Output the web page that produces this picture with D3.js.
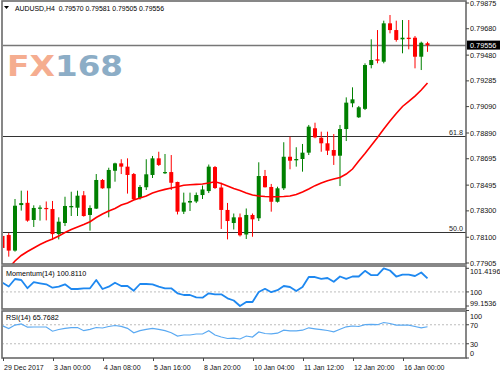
<!DOCTYPE html>
<html><head><meta charset="utf-8">
<script src="https://cdn.jsdelivr.net/npm/d3@7"></script>
<style>html,body{margin:0;padding:0;background:#fff;}svg{display:block;}</style>
</head><body>
<script>
// ---- data ----
const timeLabels = ["29 Dec 2017","3 Jan 00:00","4 Jan 08:00","5 Jan 16:00","8 Jan 20:00","10 Jan 04:00","11 Jan 12:00","12 Jan 20:00","16 Jan 00:00"];
const timeLabelIdx = [0,8,16,24,32,40,48,56,64];
const priceTicks = ["0.79875","0.79680","0.79480","0.79285","0.79090","0.78890","0.78695","0.78495","0.78300","0.78100","0.77905"];
const open = [0.78110,0.78117,0.77999,0.78344,0.78361,0.78231,0.78318,0.78322,0.78314,0.78124,
0.78208,0.78327,0.78324,0.78418,0.78269,0.78317,0.78534,0.78471,0.78604,0.78660,
0.78635,0.78579,0.78398,0.78479,0.78572,0.78698,0.78585,0.78594,0.78519,0.78294,
0.78363,0.78371,0.78420,0.78450,0.78632,0.78477,0.78307,0.78208,0.78251,0.78121,
0.78269,0.78244,0.78564,0.78481,0.78369,0.78471,0.78710,0.78683,0.78693,0.78741,
0.78926,0.78854,0.78812,0.78761,0.78718,0.78920,0.79115,0.79009,0.79073,0.79405,
0.79448,0.79430,0.79721,0.79670,0.79600,0.79612,0.79612,0.79468,0.79570];
const high = [0.78117,0.78132,0.78390,0.78453,0.78453,0.78342,0.78342,0.78371,0.78375,0.78251,
0.78407,0.78445,0.78453,0.78450,0.78342,0.78579,0.78541,0.78627,0.78665,0.78691,
0.78698,0.78587,0.78496,0.78691,0.78716,0.78748,0.78731,0.78723,0.78521,0.78438,
0.78438,0.78439,0.78492,0.78651,0.78640,0.78513,0.78360,0.78280,0.78280,0.78318,
0.78280,0.78668,0.78610,0.78504,0.78483,0.78820,0.78862,0.78782,0.78807,0.78951,
0.78968,0.78900,0.78900,0.78882,0.78951,0.79160,0.79236,0.79095,0.79418,0.79600,
0.79670,0.79741,0.79784,0.79741,0.79746,0.79746,0.79625,0.79582,0.79581];
const low = [0.78004,0.77953,0.77991,0.78302,0.78218,0.78178,0.78226,0.78228,0.78079,0.78084,
0.78185,0.78261,0.78261,0.78256,0.78150,0.78314,0.78468,0.78251,0.78521,0.78579,
0.78431,0.78382,0.78386,0.78458,0.78549,0.78640,0.78579,0.78458,0.78273,0.78276,
0.78299,0.78359,0.78390,0.78435,0.78466,0.78163,0.78084,0.78159,0.78106,0.78087,
0.78104,0.78223,0.78477,0.78294,0.78363,0.78458,0.78615,0.78635,0.78597,0.78723,
0.78850,0.78748,0.78723,0.78648,0.78488,0.78829,0.79085,0.79004,0.79064,0.79380,
0.79418,0.79418,0.79645,0.79582,0.79494,0.79524,0.79380,0.79367,0.79505];
const close = [0.78019,0.77999,0.78339,0.78359,0.78226,0.78322,0.78325,0.78314,0.78124,0.78218,
0.78337,0.78337,0.78415,0.78261,0.78322,0.78534,0.78471,0.78610,0.78660,0.78635,
0.78572,0.78388,0.78481,0.78577,0.78698,0.78648,0.78594,0.78513,0.78294,0.78363,
0.78375,0.78420,0.78462,0.78635,0.78473,0.78307,0.78223,0.78251,0.78115,0.78269,
0.78236,0.78564,0.78479,0.78369,0.78471,0.78710,0.78680,0.78693,0.78741,0.78938,
0.78857,0.78812,0.78756,0.78718,0.78920,0.79120,0.79145,0.79085,0.79405,0.79443,
0.79438,0.79721,0.79670,0.79595,0.79612,0.79602,0.79468,0.79574,0.79556];
const ma = [0.77814,0.77867,0.77920,0.77962,0.77992,0.78019,0.78045,0.78068,0.78087,0.78110,
0.78136,0.78159,0.78178,0.78197,0.78218,0.78250,0.78276,0.78299,0.78318,0.78344,
0.78360,0.78382,0.78397,0.78412,0.78435,0.78450,0.78463,0.78473,0.78483,0.78494,
0.78498,0.78501,0.78504,0.78511,0.78521,0.78507,0.78488,0.78469,0.78454,0.78435,
0.78420,0.78413,0.78409,0.78407,0.78407,0.78409,0.78413,0.78424,0.78443,0.78466,
0.78491,0.78511,0.78529,0.78541,0.78553,0.78579,0.78617,0.78678,0.78735,0.78795,
0.78856,0.78920,0.78981,0.79038,0.79091,0.79129,0.79170,0.79216,0.79269];
const momentum = [100.554,100.326,100.776,100.716,100.223,100.584,100.518,100.458,100.253,100.313,
100.458,100.175,100.175,100.217,100.217,100.716,100.175,100.313,100.554,100.356,
100.356,100.073,100.476,100.476,100.458,100.313,100.217,100.217,99.917,99.815,
99.815,99.676,99.652,99.917,99.857,99.857,99.616,99.484,99.154,99.394,
99.394,99.995,100.187,99.983,100.103,100.356,100.295,100.055,100.295,100.896,
100.896,100.788,100.836,100.608,100.926,100.788,100.926,100.926,101.269,101.005,
101.005,101.420,101.287,100.926,101.035,101.035,100.957,101.167,100.811];
const rsi = [67.8,62.1,69.3,71.6,64.8,65.3,65.3,65.3,56.4,60.0,
62.5,63.8,64.2,57.5,60.4,64.2,63.2,66.3,68.4,66.7,
62.5,53.1,57.5,60.4,62.5,60.4,57.5,53.3,46.3,48.4,
48.4,50.5,50.5,57.5,48.4,44.2,41.1,41.7,40.0,46.3,
44.2,54.7,51.6,50.9,52.2,58.5,57.3,57.3,58.5,63.6,
61.5,59.6,57.9,55.2,60.4,65.7,67.4,66.3,70.1,70.9,
70.1,74.7,72.6,69.1,69.1,69.1,66.3,63.6,65.77];
const momTicks = [101.4196, 100, 99.1536];
const rsiTicks = [100, 70, 30, 0];
const fibLevels = [{label:"61.8", value:0.78867},{label:"50.0", value:0.78137}];
const bid = 0.79556;
const header = "AUDUSD,H4  0.79570 0.79581 0.79505 0.79556";
const momLabel = "Momentum(14) 100.8110";
const rsiLabel = "RSI(14) 65.7682";

// ---- layout ----
const W = 500, H = 375;
const L = 2, R = 466;
const main = {top:1, bottom:264};
const momP = {top:266, bottom:309};
const rsiP = {top:311, bottom:358};
const FONT = "'Liberation Sans', Arial, sans-serif";

const svg = d3.select("body").append("svg").attr("width", W).attr("height", H)
  .style("font-family", FONT);

const n = close.length;
const x = d3.scaleLinear().domain([0, n-1]).range([2.5, 2.5 + 6.25*(n-1)]);
const y = d3.scaleLinear().domain([0.77905, 0.79875]).range([263, 3]);
const ym = d3.scaleLinear().domain([99.1536, 101.4196]).range([306, 268.3]);
const yr = d3.scaleLinear().domain([0, 100]).range([358, 310.5]);

const defs = svg.append("defs");
defs.append("clipPath").attr("id","cMain").append("rect").attr("x",L+1).attr("y",main.top+1).attr("width",R-L-1).attr("height",main.bottom-main.top-1);
defs.append("clipPath").attr("id","cMom").append("rect").attr("x",L+1).attr("y",momP.top).attr("width",R-L-1).attr("height",momP.bottom-momP.top);
defs.append("clipPath").attr("id","cRsi").append("rect").attr("x",L+1).attr("y",rsiP.top).attr("width",R-L-1).attr("height",rsiP.bottom-rsiP.top);

// ---- logo ----
const logoFont = "'DejaVu Sans', Verdana, sans-serif";
svg.append("text").attr("x", 7).attr("y", 76).attr("textLength",48).attr("lengthAdjust","spacingAndGlyphs")
  .style("font-family",logoFont).style("font-weight","bold").style("font-size","28px")
  .attr("fill","#f5ad90").text("FX");
svg.append("text").attr("x", 55).attr("y", 76).attr("textLength",68).attr("lengthAdjust","spacingAndGlyphs")
  .style("font-family",logoFont).style("font-weight","bold").style("font-size","28px")
  .attr("fill","#8cadc6").text("168");

// ---- main panel ----
const gm = svg.append("g").attr("clip-path","url(#cMain)");
gm.append("line").attr("x1",L).attr("x2",R).attr("y1",Math.round(y(bid))+0.5).attr("y2",Math.round(y(bid))+0.5)
  .attr("stroke","#777").attr("stroke-width",1.3);
fibLevels.forEach(f => {
  const yy = Math.round(y(f.value))+0.5;
  gm.append("line").attr("x1",L).attr("x2",R).attr("y1",yy).attr("y2",yy).attr("stroke","#333").attr("stroke-width",1.2);
  svg.append("text").attr("x",R-3).attr("y",yy-2).attr("text-anchor","end")
    .attr("font-size","7.2px").attr("fill","#222").text(f.label);
});

const idx = d3.range(n);
const col = i => close[i] >= open[i] ? "#008000" : "#ff0000";
gm.selectAll("line.wick").data(idx).join("line").attr("class","wick")
  .attr("x1", i => x(i)).attr("x2", i => x(i))
  .attr("y1", i => y(high[i])).attr("y2", i => y(low[i]))
  .attr("stroke", col).attr("stroke-width",1);
gm.selectAll("rect.body").data(idx).join("rect").attr("class","body")
  .attr("x", i => x(i)-2).attr("width",4)
  .attr("y", i => y(Math.max(open[i],close[i])))
  .attr("height", i => Math.max(1.2, Math.abs(y(open[i])-y(close[i]))))
  .attr("fill", col);
gm.append("path").datum(ma).attr("fill","none").attr("stroke","#ff0000").attr("stroke-width",1.6)
  .attr("d", d3.line().x((d,i)=>x(i)).y(d=>y(d)));

// header
svg.append("path").attr("d","M4,6 L9,6 L6.5,9 Z").attr("fill","#000");
svg.append("text").attr("x",15).attr("y",10.5).attr("font-size","6.9px").attr("fill","#000")
  .attr("xml:space","preserve").style("white-space","pre").text(header);

// ---- momentum panel ----
const gmo = svg.append("g").attr("clip-path","url(#cMom)");
gmo.append("line").attr("x1",L).attr("x2",R).attr("y1",ym(100)).attr("y2",ym(100))
  .attr("stroke","#bdbdbd").attr("stroke-dasharray","2,2");
gmo.append("path").datum(momentum).attr("fill","none").attr("stroke","#1e88f0").attr("stroke-width",1.8)
  .attr("stroke-linejoin","round")
  .attr("d", d3.line().x((d,i)=>x(i)).y(d=>ym(d)));
svg.append("text").attr("x",6).attr("y",276).attr("font-size","7.2px").attr("fill","#000").text(momLabel);

// ---- RSI panel ----
const gr = svg.append("g").attr("clip-path","url(#cRsi)");
[70,30].forEach(v => gr.append("line").attr("x1",L).attr("x2",R).attr("y1",yr(v)).attr("y2",yr(v))
  .attr("stroke","#bdbdbd").attr("stroke-dasharray","2,2"));
gr.append("path").datum(rsi).attr("fill","none").attr("stroke","#5aa9f2").attr("stroke-width",1.2)
  .attr("d", d3.line().x((d,i)=>x(i)).y(d=>yr(d)));
svg.append("text").attr("x",6).attr("y",320).attr("font-size","7.2px").attr("fill","#000").text(rsiLabel);

// ---- panel borders ----
[main, momP, rsiP].forEach(p => {
  svg.append("rect").attr("x",L).attr("y",p.top).attr("width",R-L).attr("height",p.bottom-p.top)
    .attr("fill","none").attr("stroke","#6a6a6a").attr("stroke-width",1.6);
});

// ---- right axes ----
const axisText = (yy, t) => {
  svg.append("line").attr("x1",R).attr("x2",R+3).attr("y1",yy).attr("y2",yy).attr("stroke","#444");
  svg.append("text").attr("x",R+4).attr("y",yy).attr("dy","0.35em").attr("font-size","7.3px").attr("fill","#111").text(t);
};
priceTicks.forEach(t => axisText(y(+t), t));
const by = y(bid);
svg.append("rect").attr("x",R+1).attr("y",by-4.5).attr("width",W-R-1).attr("height",9).attr("fill","#000");
svg.append("text").attr("x",R+4).attr("y",by).attr("dy","0.35em").attr("font-size","7.3px").attr("fill","#fff").text(bid.toFixed(5));

const momOff = [3, 0.6, -2.7];
momTicks.forEach((v,k) => {
  const yy = ym(v);
  svg.append("line").attr("x1",R).attr("x2",R+3).attr("y1",yy).attr("y2",yy).attr("stroke","#444");
  svg.append("text").attr("x",R+4).attr("y",yy+momOff[k]).attr("dy","0.35em").attr("font-size","7.3px").attr("fill","#111")
    .text(v === 100 ? "100" : v.toFixed(4));
});
const rsiOff = [6.3, 0.3, 0.5, -4.8];
rsiTicks.forEach((v,k) => {
  const yy = yr(v);
  svg.append("line").attr("x1",R).attr("x2",R+3).attr("y1",yy).attr("y2",yy).attr("stroke","#444");
  svg.append("text").attr("x",R+4).attr("y",yy+rsiOff[k]).attr("dy","0.35em").attr("font-size","7.3px").attr("fill","#111").text(v);
});

// ---- bottom axis ----
timeLabelIdx.forEach((ix,k) => {
  const xx = Math.round(x(ix))+0.5;
  svg.append("line").attr("x1",xx).attr("x2",xx).attr("y1",rsiP.bottom).attr("y2",rsiP.bottom+3).attr("stroke","#444");
  svg.append("text").attr("x",xx+0.5).attr("y",369.5).attr("font-size","7px").attr("fill","#111").text(timeLabels[k]);
});
</script>
</body></html>
